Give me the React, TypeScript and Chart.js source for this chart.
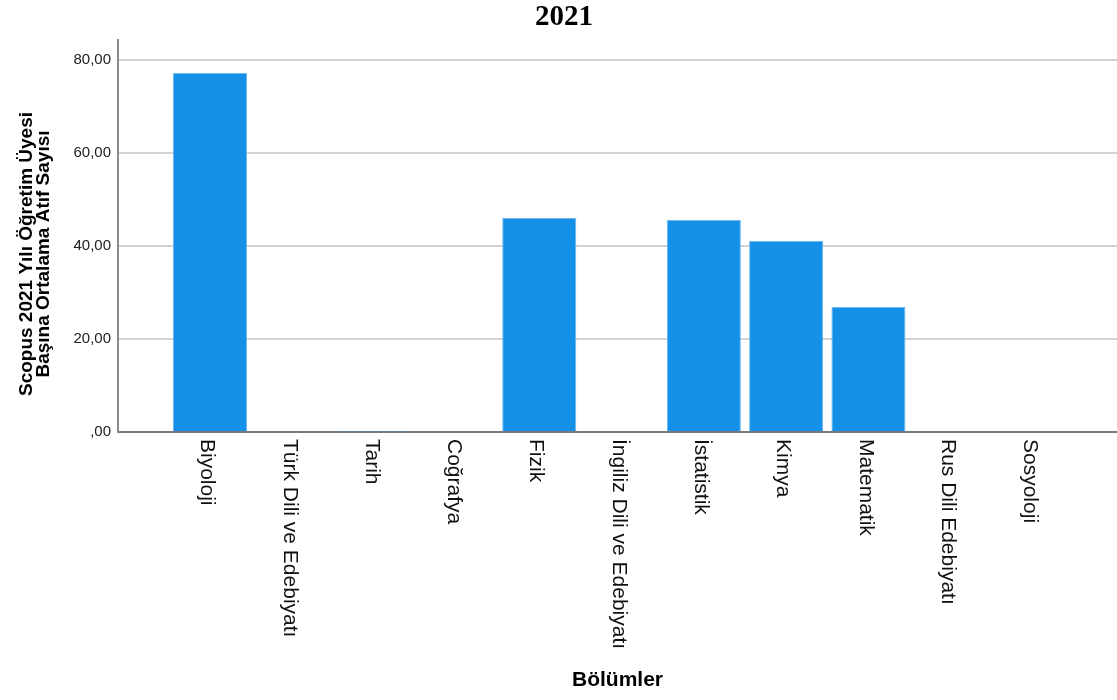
import React, { useEffect, useRef } from "react";
import { Chart, registerables } from "chart.js";

Chart.register(...registerables);

const chartTitle = "2021";
const categories = [
  "Biyoloji",
  "Türk Dili ve Edebiyatı",
  "Tarih",
  "Coğrafya",
  "Fizik",
  "İngiliz Dili ve Edebiyatı",
  "İstatistik",
  "Kimya",
  "Matematik",
  "Rus Dili Edebiyatı",
  "Sosyoloji",
];
const values = [77.2, 0.15, 0.12, 0, 46.0, 0, 45.6, 41.1, 26.9, 0, 0];
const yTitleLines = ["Scopus 2021 Yılı Öğretim Üyesi", "Başına Ortalama Atıf Sayısı"];
const xTitle = "Bölümler";
const yTicks = [0, 20, 40, 60, 80];

const fmt = (v: number) => (v === 0 ? ",00" : v.toFixed(2).replace(".", ","));

const labelPlugin = {
  id: "customLabels",
  afterDraw(chart: any) {
    const ctx = chart.ctx;
    const xs = chart.scales.x;
    const area = chart.chartArea;
    ctx.save();
    // chart title
    ctx.fillStyle = "#000";
    ctx.font = "bold 29px 'Liberation Serif', serif";
    ctx.textAlign = "center";
    ctx.textBaseline = "middle";
    ctx.fillText(chartTitle, 564, 18);
    // x category labels, rotated clockwise
    ctx.font = "21px 'Liberation Sans', Arial, sans-serif";
    ctx.fillStyle = "#111";
    categories.forEach((c, i) => {
      const px = xs.getPixelForValue(i) - 3;
      ctx.save();
      ctx.translate(px, area.bottom + 7);
      ctx.rotate(Math.PI / 2);
      ctx.textAlign = "left";
      ctx.textBaseline = "middle";
      ctx.fillText(c, 0, 0);
      ctx.restore();
    });
    // y title
    ctx.font = "bold 19px 'Liberation Sans', Arial, sans-serif";
    ctx.fillStyle = "#000";
    yTitleLines.forEach((t, i) => {
      ctx.save();
      ctx.translate(27 + i * 17, 254);
      ctx.rotate(-Math.PI / 2);
      ctx.textAlign = "center";
      ctx.textBaseline = "middle";
      ctx.fillText(t, 0, 0);
      ctx.restore();
    });
    ctx.restore();
  },
};

export default function App() {
  const ref = useRef<HTMLCanvasElement>(null);
  useEffect(() => {
    if (!ref.current) return;
    const chart = new Chart(ref.current, {
      type: "bar",
      data: {
        datasets: [
          {
            data: values.map((v, i) => ({ x: i, y: v })),
            backgroundColor: "#1490e6",
            borderColor: "#6fb8ef",
            borderWidth: 1,
            barPercentage: 0.9,
            categoryPercentage: 1,
          },
        ],
      },
      options: {
        responsive: false,
        animation: false,
        layout: { padding: { top: 40, left: 0, right: 0, bottom: 0 } },
        plugins: {
          legend: { display: false },
          title: { display: false },
          tooltip: { enabled: false },
        },
        scales: {
          x: {
            type: "linear",
            offset: false,
            min: -1.118,
            max: 11.02,
            grid: { display: false, drawTicks: false, offset: false },
            border: { display: true, color: "#7a7a7a", width: 2 },
            ticks: { display: false },
            title: {
              display: true,
              text: xTitle,
              color: "#000",
              font: { family: "'Liberation Sans', Arial, sans-serif", size: 21, weight: "bold" },
              padding: { top: 0, bottom: 7 },
            },
            afterFit: (s: any) => {
              s.height = 268;
            },
          },
          y: {
            min: 0,
            max: 84.3,
            grid: {
              drawTicks: false,
              lineWidth: 2,
              color: (c: any) => (c.tick && c.tick.value === 0 ? "rgba(0,0,0,0)" : "#d2d2d2"),
            },
            border: { display: true, color: "#8a8a8a", width: 2 },
            afterBuildTicks: (s: any) => {
              s.ticks = yTicks.map((v) => ({ value: v }));
            },
            ticks: {
              includeBounds: false,
              padding: 7,
              color: "#222",
              font: { family: "'Liberation Sans', Arial, sans-serif", size: 15 },
              callback: (v: any) => fmt(Number(v)),
            },
            afterFit: (s: any) => {
              s.width = 118;
            },
          },
        },
      },
      plugins: [labelPlugin],
    } as any);
    return () => chart.destroy();
  }, []);
  return (
    <div style={{ position: "absolute", left: 0, top: 0, width: 1117, height: 700, background: "#fff" }}>
      <canvas ref={ref} width={1117} height={700} style={{ display: "block" }} />
    </div>
  );
}
